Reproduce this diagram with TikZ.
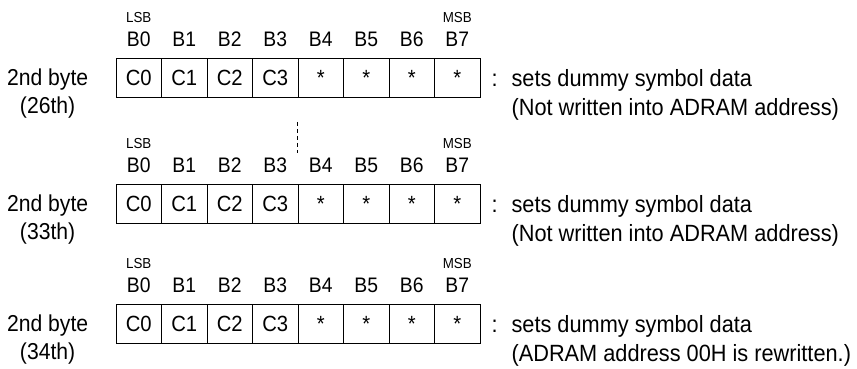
\documentclass[tikz,border=0pt]{standalone}
\usepackage{fontspec}
\setmainfont[FakeStretch=0.92]{Liberation Sans}
\newfontfamily\notefont[FakeStretch=0.925]{Liberation Sans}
\usetikzlibrary{positioning}

\begin{document}
\begin{tikzpicture}[x=1pt,y=-1pt,
  cell/.style={rectangle,draw,line width=0.8pt,minimum width=45.5pt,minimum height=39pt,inner sep=0pt,font=\fontsize{22}{24}\selectfont},
  bitname/.style={inner sep=0pt,anchor=base,font=\fontsize{21}{24}\selectfont},
  endname/.style={inner sep=0pt,anchor=base,font=\fontsize{14.5}{17}\selectfont},
  txt/.style={inner sep=0pt,font=\fontsize{23}{26}\selectfont},
  notetxt/.style={inner sep=0pt,anchor=base west,font=\notefont\fontsize{23.5}{26}\selectfont}]
\useasboundingbox (0,0) rectangle (857,368);

\foreach \r/\y/\n/\txt in {a/78/26th/{(Not written into ADRAM address)},
                           b/204/33th/{(Not written into ADRAM address)},
                           c/324/34th/{(ADRAM address 00H is rewritten.)}}{
  % one byte: 8 bit cells
  \foreach \c [count=\i from 0] in {C0,C1,C2,C3,*,*,*,*}{
    \node[cell] (\r\i) at ({138.75+45.5*\i},\y) {\c};
    \node[bitname] (\r b\i) at ([yshift=12pt]\r\i.north) {B\i};
  }
  \node[endname] (\r lsb) at ([yshift=24pt]\r b0.base) {LSB};
  \node[endname] (\r msb) at ([yshift=24pt]\r b7.base) {MSB};
  \node[txt,anchor=base] (\r name) at ([xshift=-68pt,yshift=-7pt]\r0.west) {2nd byte};
  \node[txt,anchor=base] (\r ord) at ([yshift=-28pt]\r name.base) {(\n)};
  \node[notetxt] (\r colon) at ([xshift=11pt,yshift=-8pt]\r7.east) {:};
  \node[notetxt] (\r note) at ([xshift=31pt,yshift=-8pt]\r7.east) {sets dummy symbol data};
  \node[notetxt] (\r memo) at ([yshift=-29pt]\r note.base west) {\txt};
}

\draw[line width=0.8pt,dash pattern=on 4pt off 3pt] ([yshift=-24pt]a4.south west) -- ([yshift=31pt]b4.north west);
\end{tikzpicture}
\end{document}
